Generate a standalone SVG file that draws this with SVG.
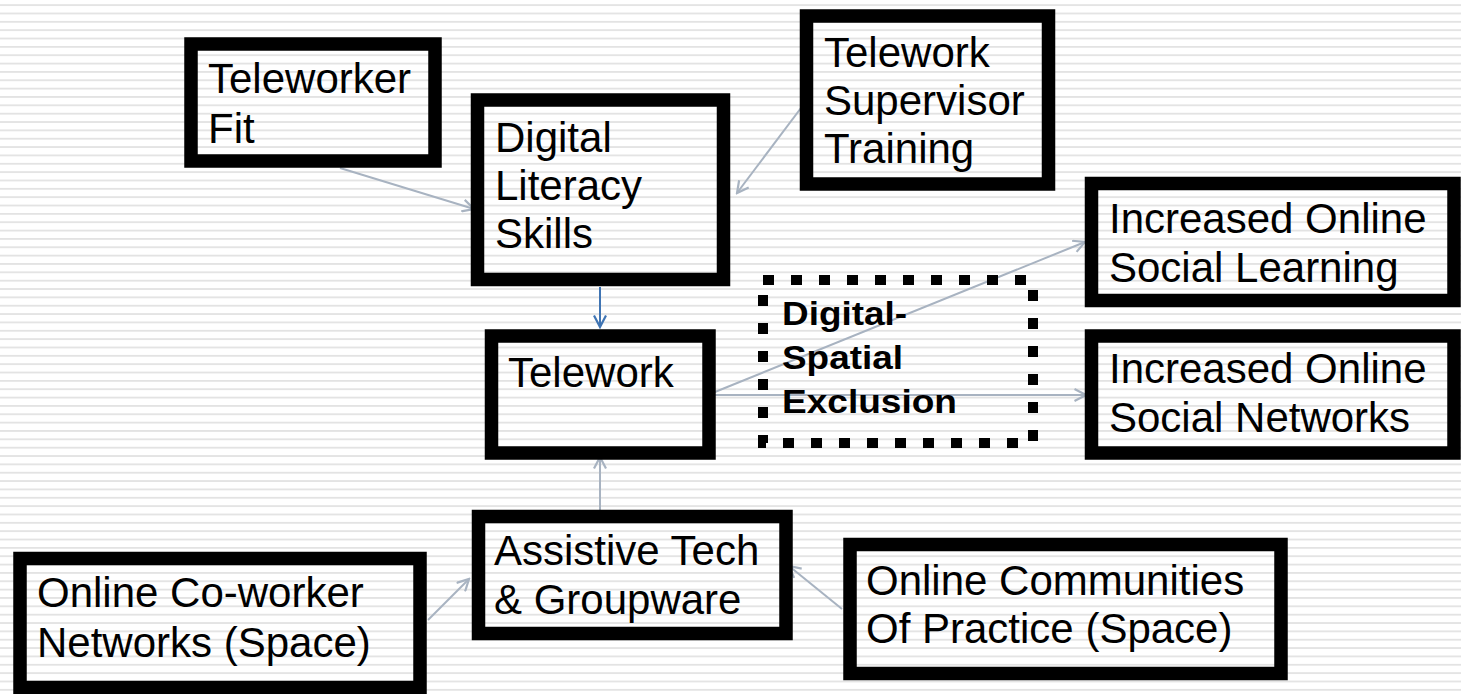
<svg xmlns="http://www.w3.org/2000/svg" width="1461" height="694" viewBox="0 0 1461 694">
<style>
  .box { fill: none; stroke: #000; stroke-width: 13.5; }
  .lbl { font-family: "Liberation Sans", Arial, sans-serif; font-size: 42px; fill: #000; }
  .bold { font-family: "Liberation Sans", Arial, sans-serif; font-size: 34px; font-weight: bold; fill: #000; }
  .conn { fill: none; stroke: #a8b3c1; stroke-width: 2; }
  .connb { fill: none; stroke: #3f74b3; stroke-width: 2; }
  .dots { fill: none; stroke: #000; stroke-width: 10; stroke-dasharray: 11 17; }
</style>
<defs>
  <pattern id="stripes" x="0" y="4.2" width="20" height="8.35" patternUnits="userSpaceOnUse">
    <rect x="0" y="0" width="20" height="1.8" fill="#e3e3e3"/>
  </pattern>
  <marker id="ag" viewBox="0 0 14 14" refX="12.5" refY="7" markerWidth="14" markerHeight="14" markerUnits="userSpaceOnUse" orient="auto">
    <path d="M1,1 L12.5,7 L1,13" fill="none" stroke="#a8b3c1" stroke-width="2.2"/>
  </marker>
  <marker id="ab" viewBox="0 0 14 14" refX="12.5" refY="7" markerWidth="14" markerHeight="14" markerUnits="userSpaceOnUse" orient="auto">
    <path d="M1,1 L12.5,7 L1,13" fill="none" stroke="#3f74b3" stroke-width="2.2"/>
  </marker>
</defs>
<rect x="0" y="0" width="1461" height="694" fill="#fff"/>
<rect x="0" y="0" width="1461" height="694" fill="url(#stripes)"/>

<g id="connectors">
  <line class="conn" x1="340" y1="168" x2="474" y2="209" marker-end="url(#ag)"/>
  <line class="conn" x1="807" y1="100" x2="737" y2="193" marker-end="url(#ag)"/>
  <line class="connb" x1="600" y1="287" x2="600" y2="327" marker-end="url(#ab)"/>
  <line class="conn" x1="600" y1="510" x2="600" y2="457" marker-end="url(#ag)"/>
  <line class="conn" x1="428" y1="620" x2="469" y2="579" marker-end="url(#ag)"/>
  <line class="conn" x1="842" y1="609" x2="789" y2="566" marker-end="url(#ag)"/>
  <line class="conn" x1="710" y1="394" x2="1085" y2="242" marker-end="url(#ag)"/>
  <line class="conn" x1="710" y1="395" x2="1086" y2="395" marker-end="url(#ag)"/>
</g>

<g id="teleworker-fit">
  <rect class="box" x="191" y="44" width="244" height="117"/>
  <text class="lbl" x="208" y="93">Teleworker</text>
  <text class="lbl" x="208" y="143">Fit</text>
</g>

<g id="digital-literacy-skills">
  <rect class="box" x="477.5" y="100" width="246" height="179.5"/>
  <text class="lbl" x="495" y="152">Digital</text>
  <text class="lbl" x="495" y="200">Literacy</text>
  <text class="lbl" x="495" y="248">Skills</text>
</g>

<g id="telework-supervisor-training">
  <rect class="box" x="806.5" y="16" width="242" height="168"/>
  <text class="lbl" x="824" y="67">Telework</text>
  <text class="lbl" x="824" y="115">Supervisor</text>
  <text class="lbl" x="824" y="163">Training</text>
</g>

<g id="telework">
  <rect class="box" x="491.5" y="336" width="217.5" height="117"/>
  <text class="lbl" x="508" y="387">Telework</text>
</g>

<g id="digital-spatial-exclusion">
  <rect class="dots" x="763" y="280" width="270" height="163"/>
  <text class="bold" x="782" y="325" textLength="125" lengthAdjust="spacingAndGlyphs">Digital-</text>
  <text class="bold" x="782" y="369" textLength="121" lengthAdjust="spacingAndGlyphs">Spatial</text>
  <text class="bold" x="782" y="413" textLength="175" lengthAdjust="spacingAndGlyphs">Exclusion</text>
</g>

<g id="increased-online-social-learning">
  <rect class="box" x="1091.5" y="183.5" width="362.5" height="117"/>
  <text class="lbl" x="1109" y="233">Increased Online</text>
  <text class="lbl" x="1109" y="282">Social Learning</text>
</g>

<g id="increased-online-social-networks">
  <rect class="box" x="1091.5" y="336" width="362.5" height="117"/>
  <text class="lbl" x="1109" y="383">Increased Online</text>
  <text class="lbl" x="1109" y="432">Social Networks</text>
</g>

<g id="online-co-worker-networks">
  <rect class="box" x="20" y="558.5" width="400" height="129"/>
  <text class="lbl" x="37" y="607">Online Co-worker</text>
  <text class="lbl" x="37" y="657">Networks (Space)</text>
</g>

<g id="assistive-tech-groupware">
  <rect class="box" x="478.5" y="516.5" width="307.5" height="117"/>
  <text class="lbl" x="494" y="565">Assistive Tech</text>
  <text class="lbl" x="494" y="614">&amp; Groupware</text>
</g>

<g id="online-communities-of-practice">
  <rect class="box" x="850" y="544.5" width="431" height="129"/>
  <text class="lbl" x="866" y="595">Online Communities</text>
  <text class="lbl" x="866" y="643">Of Practice (Space)</text>
</g>
</svg>
